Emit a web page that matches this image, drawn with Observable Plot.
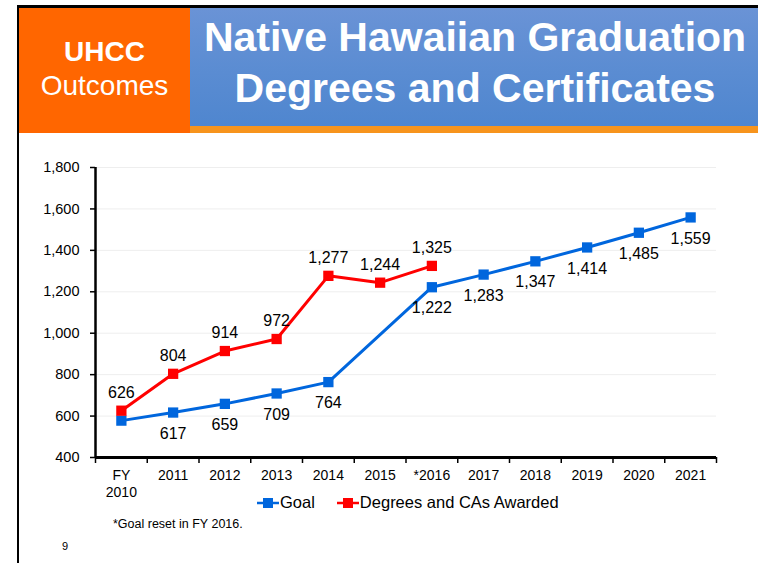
<!DOCTYPE html>
<html>
<head>
<meta charset="utf-8">
<script src="https://cdn.jsdelivr.net/npm/d3@7"></script>
<script src="https://cdn.jsdelivr.net/npm/@observablehq/plot@0.6"></script>
<style>
  html, body { margin: 0; padding: 0; background: #fff; }
  body { width: 758px; height: 563px; position: relative; overflow: hidden; font-family: "Liberation Sans", Arial, sans-serif; }
  #topline { position: absolute; left: 17px; top: 5px; width: 741px; height: 3px; background: #000; }
  #leftline { position: absolute; left: 17px; top: 5px; width: 2px; height: 558px; background: #000; }
  #orange { position: absolute; left: 19px; top: 8px; width: 171px; height: 125px; background: #ff6600; color: #fff; text-align: center; }
  #orange .a { position: absolute; top: 28px; width: 100%; font-size: 28px; font-weight: bold; line-height: 32px; }
  #orange .b { position: absolute; top: 62px; width: 100%; font-size: 28px; line-height: 32px; }
  #banner { position: absolute; left: 190px; top: 8px; width: 568px; height: 118px; background: linear-gradient(180deg, #6a93d6 0%, #5a8cd2 55%, #4f86cf 100%); color: #fff; text-align: center; }
  #banner .t { position: absolute; left: 0; width: 570px; font-size: 41px; font-weight: bold; line-height: 46px; white-space: nowrap; }
  #strip { position: absolute; left: 190px; top: 126px; width: 568px; height: 7px; background: #f7941d; }
  #chart { position: absolute; left: 0; top: 140px; }
  #legend { position: absolute; top: 493px; left: 257px; font-size: 16.5px; color: #000; display: flex; align-items: center; white-space: nowrap; }
  #legend .item { display: flex; align-items: center; margin-right: 22px; }
  #legend svg { margin-right: 1px; }
  #note { position: absolute; left: 113px; top: 517px; font-size: 12.5px; color: #000; }
  #page { position: absolute; left: 62px; top: 540px; font-size: 11px; color: #000; }
</style>
</head>
<body>
<div id="topline"></div>
<div id="leftline"></div>
<div id="orange"><div class="a">UHCC</div><div class="b">Outcomes</div></div>
<div id="banner">
  <div class="t" style="top:6px">Native Hawaiian Graduation</div>
  <div class="t" style="top:57px">Degrees and Certificates</div>
</div>
<div id="strip"></div>
<div id="chart"></div>
<div id="legend"></div>
<div id="note">*Goal reset in FY 2016.</div>
<div id="page">9</div>
<script>
// ---- data ----
const categories = ["FY\n2010", "2011", "2012", "2013", "2014", "2015", "*2016", "2017", "2018", "2019", "2020", "2021"];
const goalValues = [578, 617, 659, 709, 764, null, 1222, 1283, 1347, 1414, 1485, 1559];
const awardedValues = [626, 804, 914, 972, 1277, 1244, 1325, null, null, null, null, null];
const yTicks = [400, 600, 800, 1000, 1200, 1400, 1600, 1800];
const seriesNames = ["Goal", "Degrees and CAs Awarded"];
const seriesColors = ["#0066dd", "#ff0000"];

const goal = goalValues.map((v, i) => ({i, v})).filter(d => d.v != null);
const awarded = awardedValues.map((v, i) => ({i, v})).filter(d => d.v != null);
const idx = d3.range(categories.length);
const bounds = d3.range(categories.length + 1).map(k => k - 0.5);
const fmt = d3.format(",");

const font = "Liberation Sans, Arial, sans-serif";
const plot = Plot.plot({
  width: 758,
  height: 380,
  marginTop: 27,
  marginBottom: 63,
  marginLeft: 95,
  marginRight: 42,
  style: {fontFamily: font, color: "#000", background: "transparent"},
  x: {type: "linear", domain: [-0.5, categories.length - 0.5], label: null},
  y: {domain: [400, 1800], label: null},
  marks: [
    Plot.gridY(yTicks.slice(1), {stroke: "#eeeeee", strokeOpacity: 1, strokeWidth: 1}),
    Plot.axisY(yTicks, {label: null, tickSize: 5, tickPadding: 11, tickFormat: fmt, fontSize: 14.5, stroke: "#000", strokeWidth: 1.5}),
    Plot.axisX(bounds, {label: null, tickSize: 6, tickFormat: () => "", stroke: "#000", strokeWidth: 1.5}),
    Plot.axisX(idx, {label: null, tickSize: 0, tickPadding: 11, tickFormat: i => categories[i], fontSize: 14, lineHeight: 1.2}),
    Plot.ruleX([-0.5], {stroke: "#000", strokeWidth: 2.5}),
    Plot.ruleY([400], {stroke: "#000", strokeWidth: 3}),
    Plot.line(goal, {x: "i", y: "v", stroke: seriesColors[0], strokeWidth: 3}),
    Plot.line(awarded, {x: "i", y: "v", stroke: seriesColors[1], strokeWidth: 3}),
    Plot.dot(goal, {x: "i", y: "v", symbol: "square", r: 5.8, fill: seriesColors[0], stroke: "none"}),
    Plot.dot(awarded, {x: "i", y: "v", symbol: "square", r: 5.8, fill: seriesColors[1], stroke: "none"}),
    Plot.text(goal.filter(d => d.i > 0), {x: "i", y: "v", text: d => fmt(d.v), dy: 21, fontSize: 16, fill: "#000"}),
    Plot.text(awarded, {x: "i", y: "v", text: d => fmt(d.v), dy: -18, fontSize: 16, fill: "#000"})
  ]
});
document.getElementById("chart").appendChild(plot);

// legend
const legend = document.getElementById("legend");
seriesNames.forEach((name, k) => {
  const item = document.createElement("div");
  item.className = "item";
  item.innerHTML = `<svg width="22" height="14"><line x1="0" y1="7" x2="22" y2="7" stroke="${seriesColors[k]}" stroke-width="2.5"/><rect x="6" y="2" width="10" height="10" fill="${seriesColors[k]}"/></svg><span>${name}</span>`;
  legend.appendChild(item);
});
</script>
</body>
</html>
